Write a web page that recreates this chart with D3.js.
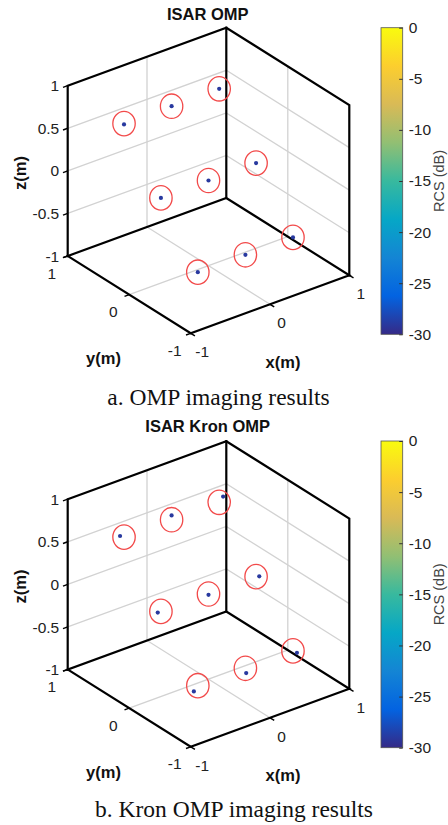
<!DOCTYPE html>
<html>
<head>
<meta charset="utf-8">
<script src="https://cdn.jsdelivr.net/npm/d3@7"></script>
<style>
  html, body { margin: 0; padding: 0; background: #fff; }
  svg { display: block; }
</style>
</head>
<body>
<svg id="chart" width="448" height="825"></svg>
<script>
// ---------------- data ----------------
const panelTitles = ["ISAR OMP", "ISAR Kron OMP"];
const panelCaptions = ["a. OMP imaging results", "b. Kron OMP imaging results"];
const xTicks = [-1, 0, 1];
const yTicks = [-1, 0, 1];
const zTicks = [-1, -0.5, 0, 0.5, 1];
const zTickLabels = ["-1", "-0.5", "0", "0.5", "1"];
const cbTicks = [-30, -25, -20, -15, -10, -5, 0];

// true scatterer positions (red circles)
const trueX = [-0.6, 0, 0.6, -0.6, 0, 0.6, -0.6, 0, 0.6];
const trueY = [0.6, 0.6, 0.6, 0, 0, 0, -0.6, -0.6, -0.6];
const trueZ = [0.6, 0.6, 0.6, 0, 0, 0, -0.6, -0.6, -0.6];

// OMP reconstruction
const ompX = [-0.6, 0, 0.6, -0.6, 0, 0.6, -0.6, 0, 0.6];
const ompY = [0.6, 0.6, 0.6, 0, 0, 0, -0.6, -0.6, -0.6];
const ompZ = [0.59, 0.6, 0.6, 0, 0, 0, -0.6, -0.6, -0.6];
const ompRCS = [-29, -29, -29, -29, -29, -29, -29, -29, -29];

// Kron OMP reconstruction
const kronX = [-0.65, 0, 0.65, -0.64, 0, 0.64, -0.65, 0.01, 0.65];
const kronY = [0.6, 0.6, 0.6, 0, 0, 0, -0.6, -0.6, -0.6];
const kronZ = [0.63, 0.65, 0.65, 0, -0.01, -0.01, -0.65, -0.66, -0.64];
const kronRCS = [-29, -29, -29, -29, -29, -29, -29, -29, -29];

// parula colormap stops
const parulaStops = ["#352a87", "#0363e1", "#1485d4", "#06a7c6", "#38b99e", "#92bf73", "#d9ba56", "#fcce2e", "#f9fb0e"];

// ---------------- drawing ----------------
const svg = d3.select("#chart");
const defs = svg.append("defs");
const grad = defs.append("linearGradient").attr("id", "parula")
  .attr("x1", 0).attr("y1", 1).attr("x2", 0).attr("y2", 0);
parulaStops.forEach((c, i) => grad.append("stop")
  .attr("offset", i / (parulaStops.length - 1)).attr("stop-color", c));

const colorScale = d3.scaleLinear()
  .domain(d3.range(parulaStops.length).map(i => -30 + 30 * i / (parulaStops.length - 1)))
  .range(parulaStops).clamp(true);

// 3D projection basis (screen px per unit along each data axis)
const sx = d3.scaleLinear().domain([-1, 1]).range([-1, 1]);
const sy = d3.scaleLinear().domain([-1, 1]).range([-1, 1]);
const sz = d3.scaleLinear().domain([-1, 1]).range([-1, 1]);
const ex = [79.3, -29.0];
const ey = [-61.5, -38.65];
const ez = [0, -85.15];

const panels = [
  { cx: 208.5, cy: 180.5, cbTop: 27.7, cbBot: 334.3, titleY: 19.5, capX: 218.5, capY: 405,
    X: ompX, Y: ompY, Z: ompZ, R: ompRCS },
  { cx: 208.5, cy: 594.0, cbTop: 441.0, cbBot: 747.7, titleY: 432, capX: 234, capY: 816.5,
    X: kronX, Y: kronY, Z: kronZ, R: kronRCS }
];

const tickFont = "Liberation Sans, Arial, Helvetica, sans-serif";
const fmt = d => String(d);

panels.forEach((p, pi) => {
  const g = svg.append("g");
  const proj = (x, y, z) => [
    p.cx + sx(x) * ex[0] + sy(y) * ey[0] + sz(z) * ez[0],
    p.cy + sx(x) * ex[1] + sy(y) * ey[1] + sz(z) * ez[1]
  ];
  const line = d3.line();

  // grid lines (light gray)
  const grid = g.append("g").attr("fill", "none").attr("stroke", "#d2d2d2").attr("stroke-width", 1.3);
  const gl = pts => grid.append("path").attr("d", line(pts.map(q => proj(...q))));
  zTicks.filter(z => z > -1 && z < 1).forEach(z => gl([[-1, 1, z], [1, 1, z], [1, -1, z]]));
  xTicks.filter(x => x > -1 && x < 1).forEach(x => gl([[x, -1, -1], [x, 1, -1], [x, 1, 1]]));
  yTicks.filter(y => y > -1 && y < 1).forEach(y => gl([[-1, y, -1], [1, y, -1], [1, y, 1]]));

  // box edges
  const box = g.append("g").attr("fill", "none").attr("stroke", "#000").attr("stroke-width", 2.2)
    .attr("stroke-linejoin", "miter").attr("stroke-linecap", "square");
  const bl = pts => box.append("path").attr("d", line(pts.map(q => proj(...q))));
  bl([[-1, 1, -1], [-1, 1, 1], [1, 1, 1], [1, -1, 1], [1, -1, -1]]);
  bl([[1, 1, -1], [1, 1, 1]]);
  bl([[-1, 1, -1], [1, 1, -1], [1, -1, -1], [-1, -1, -1], [-1, 1, -1]]);

  // tick marks
  const tk = g.append("g").attr("stroke", "#000").attr("stroke-width", 1.4);
  const tl = 5;
  const nx = [-ex[0] / Math.hypot(...ex), -ex[1] / Math.hypot(...ex)];
  const ny = [-ey[0] / Math.hypot(...ey), -ey[1] / Math.hypot(...ey)];
  zTicks.forEach(z => { const a = proj(-1, 1, z); tk.append("line").attr("x1", a[0]).attr("y1", a[1]).attr("x2", a[0] + nx[0] * tl).attr("y2", a[1] + nx[1] * tl); });
  yTicks.forEach(y => { const a = proj(-1, y, -1); tk.append("line").attr("x1", a[0]).attr("y1", a[1]).attr("x2", a[0] + nx[0] * tl).attr("y2", a[1] + nx[1] * tl); });
  xTicks.forEach(x => { const a = proj(x, -1, -1); tk.append("line").attr("x1", a[0]).attr("y1", a[1]).attr("x2", a[0] + ny[0] * tl).attr("y2", a[1] + ny[1] * tl); });

  // tick labels
  const lab = g.append("g").attr("font-family", tickFont).attr("font-size", 15.5).attr("fill", "#222");
  zTicks.forEach((z, i) => { const a = proj(-1, 1, z);
    lab.append("text").attr("x", a[0] - 8.5).attr("y", a[1]).attr("dy", "0.36em").attr("text-anchor", "end").text(zTickLabels[i]); });
  yTicks.forEach(y => { const a = proj(-1, y, -1);
    lab.append("text").attr("x", a[0] - 16).attr("y", a[1] + 17).attr("dy", "0.36em").attr("text-anchor", "middle").text(fmt(y)); });
  xTicks.forEach(x => { const a = proj(x, -1, -1);
    lab.append("text").attr("x", a[0] + 11.5).attr("y", a[1] + 18.3).attr("dy", "0.36em").attr("text-anchor", "middle").text(fmt(x)); });

  // axis labels
  const al = g.append("g").attr("font-family", tickFont).attr("font-size", 16.5).attr("font-weight", "bold").attr("fill", "#111");
  al.append("text").attr("transform", `translate(${p.cx - 188}, ${p.cy - 7.5}) rotate(-90)`).attr("dy", "0.36em").attr("text-anchor", "middle").text("z(m)");
  al.append("text").attr("x", p.cx - 105).attr("y", p.cy + 178).attr("dy", "0.36em").attr("text-anchor", "middle").text("y(m)");
  al.append("text").attr("x", p.cx + 74.5).attr("y", p.cy + 181.5).attr("dy", "0.36em").attr("text-anchor", "middle").text("x(m)");

  // title
  g.append("text").attr("x", 207.7).attr("y", p.titleY).attr("text-anchor", "middle")
    .attr("font-family", tickFont).attr("font-size", 16.5).attr("font-weight", "bold").attr("fill", "#111")
    .text(panelTitles[pi]);

  // red circles (true positions)
  const circ = g.append("g").attr("fill", "none").attr("stroke", "#f24a4a").attr("stroke-width", 1.3);
  trueX.forEach((x, i) => { const a = proj(x, trueY[i], trueZ[i]);
    circ.append("ellipse").attr("cx", a[0]).attr("cy", a[1]).attr("rx", 11.2).attr("ry", 12.2); });

  // reconstructed points
  const pts = g.append("g");
  p.X.forEach((x, i) => { const a = proj(x, p.Y[i], p.Z[i]);
    pts.append("circle").attr("cx", a[0]).attr("cy", a[1]).attr("r", 2.1).attr("fill", colorScale(p.R[i])); });

  // colorbar
  const cbX = 381, cbW = 21.7;
  g.append("rect").attr("x", cbX).attr("y", p.cbTop).attr("width", cbW).attr("height", p.cbBot - p.cbTop)
    .attr("fill", "url(#parula)").attr("stroke", "#555").attr("stroke-width", 0.8);
  const cScale = d3.scaleLinear().domain([-30, 0]).range([p.cbBot, p.cbTop]);
  const cAxis = d3.axisRight(cScale).tickValues(cbTicks).tickFormat(fmt)
    .tickSizeInner(-3.5).tickSizeOuter(0).tickPadding(6);
  const cg = g.append("g").attr("transform", `translate(${cbX + cbW},0)`).call(cAxis);
  cg.select(".domain").remove();
  cg.selectAll(".tick line").attr("stroke", "#333");
  cg.selectAll(".tick text").attr("font-family", tickFont).attr("font-size", 15.5).attr("fill", "#222");
  g.append("text").attr("transform", `translate(439, ${(p.cbTop + p.cbBot) / 2}) rotate(-90)`)
    .attr("dy", "0.36em").attr("text-anchor", "middle")
    .attr("font-family", tickFont).attr("font-size", 14.5).attr("fill", "#444").text("RCS (dB)");

  // caption
  g.append("text").attr("x", p.capX).attr("y", p.capY).attr("text-anchor", "middle")
    .attr("font-family", "Liberation Serif, Times New Roman, serif").attr("font-size", 23.5).attr("fill", "#111")
    .text(panelCaptions[pi]);
});
</script>
</body>
</html>
